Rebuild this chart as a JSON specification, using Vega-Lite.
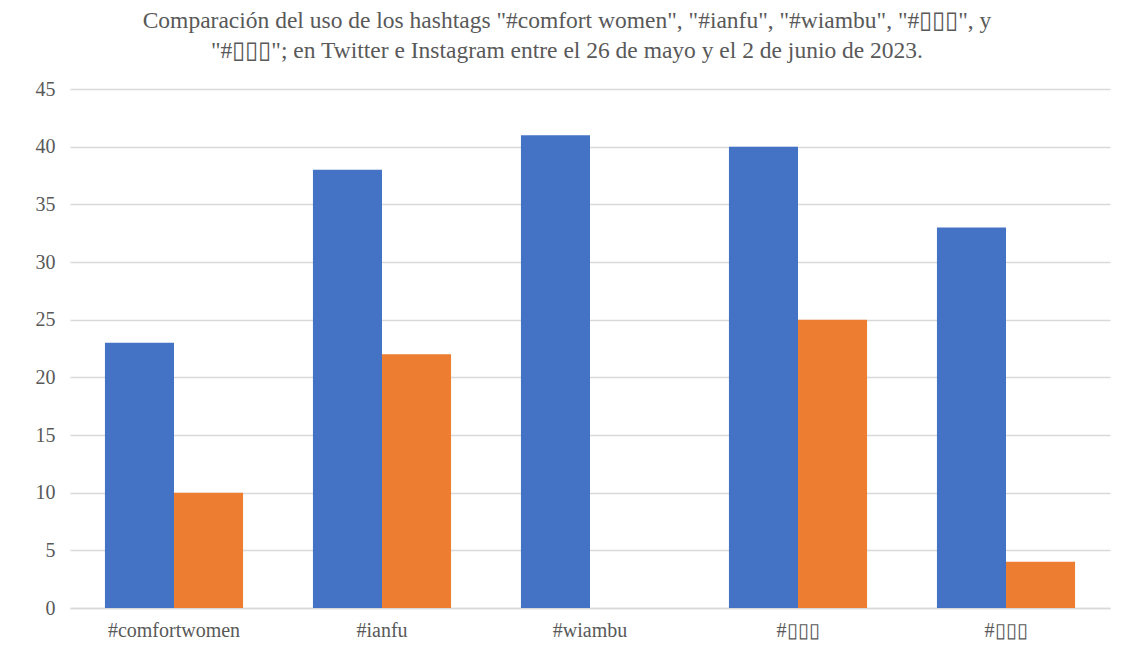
{
  "$schema": "https://vega.github.io/schema/vega-lite/v6.json",
  "width": 1040,
  "height": 519,
  "autosize": {"type": "none"},
  "padding": {"left": 70, "top": 89, "right": 19, "bottom": 60},
  "background": "white",
  "title": {
    "text": ["Comparación del uso de los hashtags \"#comfort women\", \"#ianfu\", \"#wiambu\", \"#▯▯▯\", y", "\"#▯▯▯\"; en Twitter e Instagram entre el 26 de mayo y el 2 de junio de 2023."],
    "font": "Liberation Serif",
    "fontSize": 23.5,
    "fontWeight": "normal",
    "color": "#595959",
    "lineHeight": 30,
    "anchor": "middle",
    "dx": -23,
    "offset": 17
  },
  "data": {
    "values": [
      {"hashtag": "#comfortwomen", "red": "Twitter", "usos": 23},
      {"hashtag": "#comfortwomen", "red": "Instagram", "usos": 10},
      {"hashtag": "#ianfu", "red": "Twitter", "usos": 38},
      {"hashtag": "#ianfu", "red": "Instagram", "usos": 22},
      {"hashtag": "#wiambu", "red": "Twitter", "usos": 41},
      {"hashtag": "#wiambu", "red": "Instagram", "usos": 0},
      {"hashtag": "#▯▯▯|1", "red": "Twitter", "usos": 40},
      {"hashtag": "#▯▯▯|1", "red": "Instagram", "usos": 25},
      {"hashtag": "#▯▯▯|2", "red": "Twitter", "usos": 33},
      {"hashtag": "#▯▯▯|2", "red": "Instagram", "usos": 4}
    ]
  },
  "mark": {"type": "bar"},
  "encoding": {
    "x": {
      "field": "hashtag",
      "type": "nominal",
      "sort": null,
      "title": null,
      "scale": {"paddingInner": 0.336, "paddingOuter": 0.168},
      "axis": {
        "labelExpr": "split(datum.label, '|')[0]",
        "labelAngle": 0,
        "labelFont": "Liberation Serif",
        "labelFontSize": 20,
        "labelColor": "#595959",
        "ticks": false,
        "labelPadding": 12,
        "domainColor": "#d9d9d9",
        "domainWidth": 1.5,
        "grid": false
      }
    },
    "xOffset": {"field": "red", "type": "nominal", "sort": ["Twitter", "Instagram"], "scale": {"paddingInner": 0, "paddingOuter": 0}},
    "y": {
      "field": "usos",
      "type": "quantitative",
      "title": null,
      "scale": {"domain": [0, 45]},
      "axis": {
        "values": [0, 5, 10, 15, 20, 25, 30, 35, 40, 45],
        "labelFont": "Liberation Serif",
        "labelFontSize": 20,
        "labelColor": "#595959",
        "ticks": false,
        "domain": false,
        "labelPadding": 15,
        "gridColor": "#d9d9d9",
        "gridWidth": 1.5
      }
    },
    "color": {
      "field": "red",
      "type": "nominal",
      "sort": ["Twitter", "Instagram"],
      "scale": {"domain": ["Twitter", "Instagram"], "range": ["#4472C4", "#ED7D31"]},
      "legend": null
    }
  },
  "config": {"view": {"stroke": null}}
}
